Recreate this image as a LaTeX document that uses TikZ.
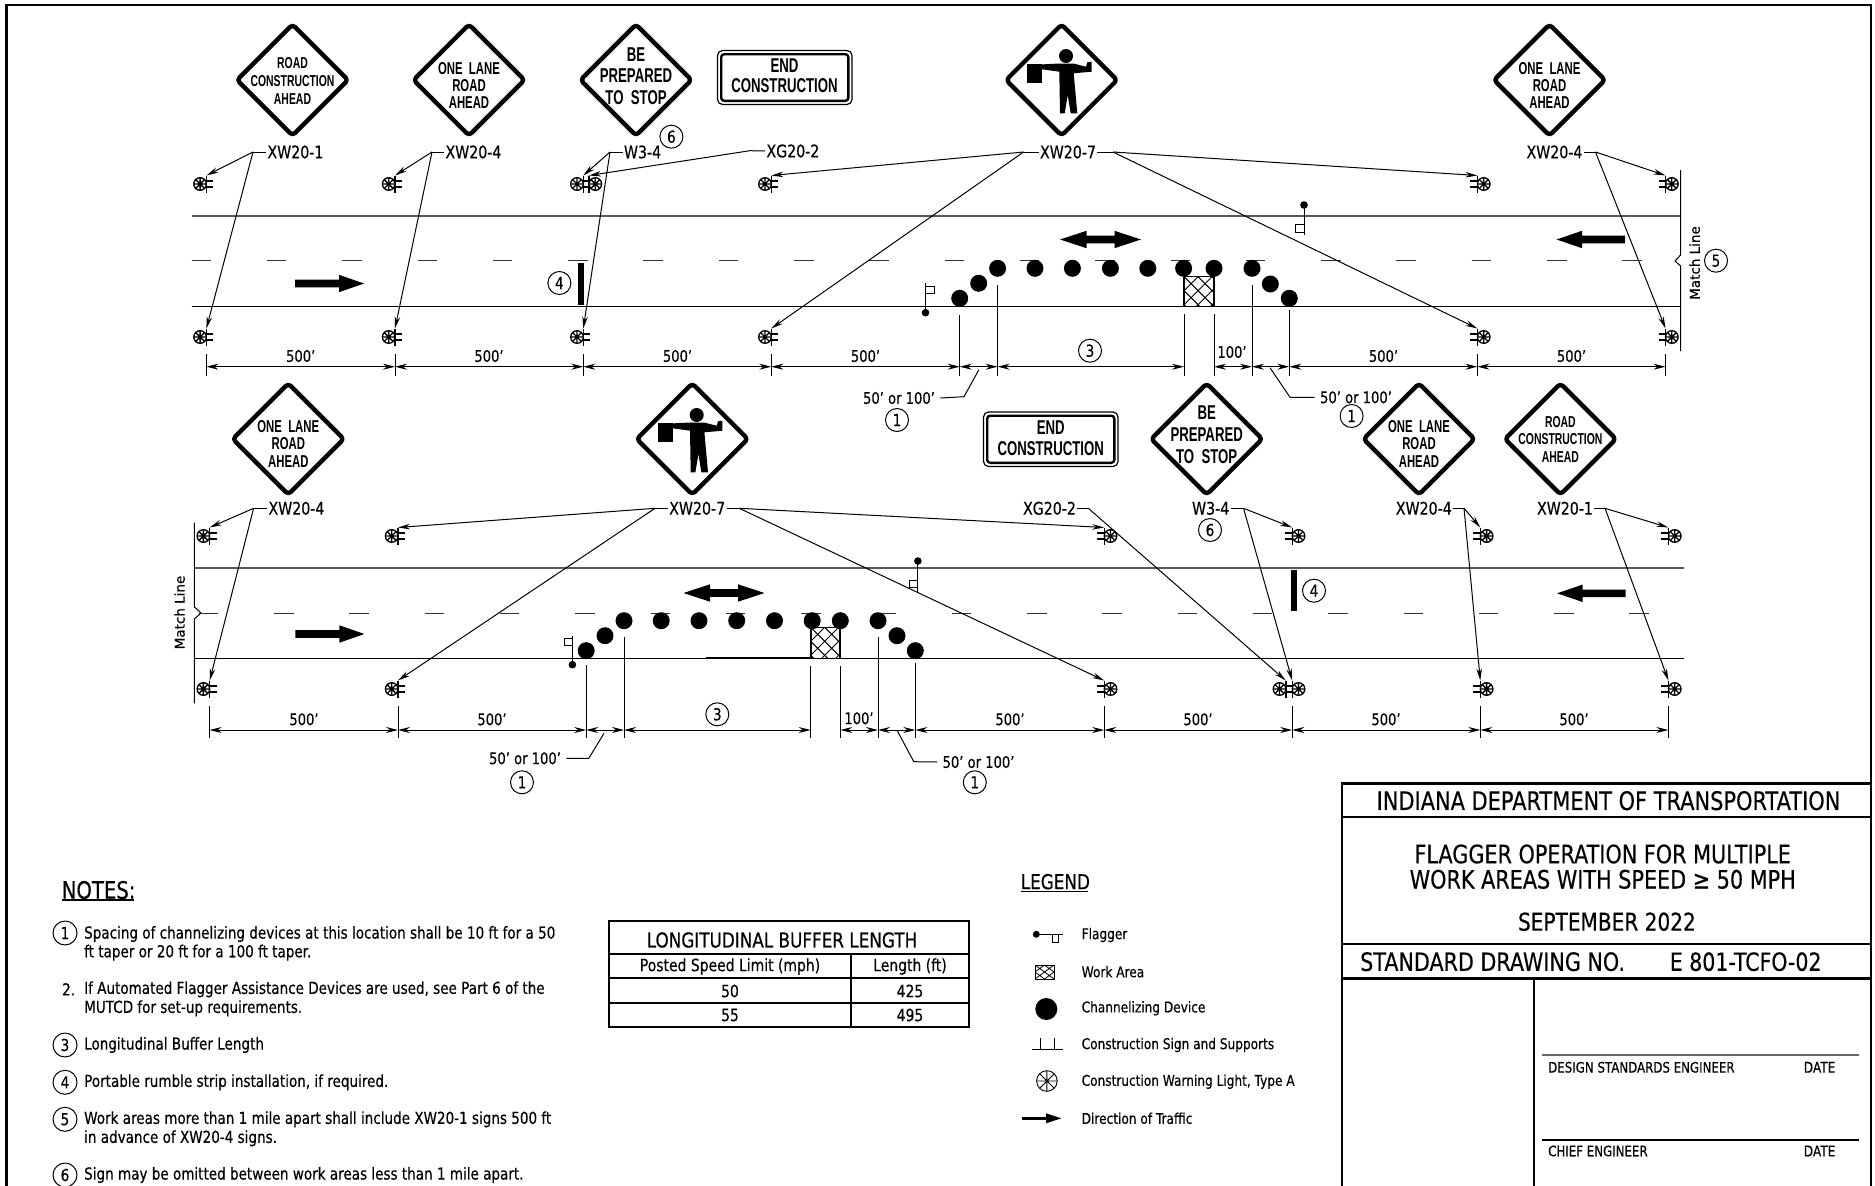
\documentclass[tikz,border=0pt]{standalone}
\usepackage{fontspec}
\setmainfont[FakeStretch=.82,FakeBold=.35]{DejaVu Sans}
\newfontfamily\signf[FakeStretch=.66]{Liberation Sans Bold}
\newfontfamily\matchf[FakeBold=.3]{DejaVu Sans}
\usetikzlibrary{arrows.meta}
\newcommand{\fs}[1]{\fontsize{#1}{#1}\selectfont}
\tikzset{
  frameline/.style={line width=2.6pt,line join=miter},
  ln/.style={line width=1pt},
  ar/.style={line width=1pt,-{Stealth[length=12pt,width=5.5pt]}},
  dimar/.style={line width=1pt,{Stealth[length=12pt,width=6pt]}-{Stealth[length=12pt,width=6pt]}},
  ext/.style={line width=.9pt},
  lbl/.style={inner sep=0pt,outer sep=1.5pt,font=\fs{17.3}},
  dimtxt/.style={inner sep=0pt,font=\fs{16}},
  note/.style={inner sep=0pt,anchor=west,font=\fs{16.5}},
  legendtxt/.style={inner sep=0pt,anchor=west,font=\fs{14.8}},
  tbl/.style={inner sep=0pt,font=\fs{17}},
  ttl/.style={inner sep=0pt,font=\fs{25.5}},
  sgnS/.style={inner sep=0pt,font=\signf\fs{15.8}},
  sgnM/.style={inner sep=0pt,font=\signf\fs{17.2}},
  sgnL/.style={inner sep=0pt,font=\signf\fs{20}},
  cnumst/.style={circle,draw,line width=1pt,minimum size=23pt,inner sep=0pt,font=\fs{16.5}},
  signedge/.style={line width=4.4pt,rounded corners=3.5pt,line join=round},
  road/.style={line width=1.5pt,draw=black!65},
  roadb/.style={line width=1pt},
  cl/.style={line width=1pt,dash pattern=on 19.5pt off 55.8pt,draw=black!80},
  cone/.style={fill=black},
  strip/.style={fill=black,draw=none},
  tline/.style={line width=2pt},
}
% wheel light
\newcommand{\wheelw}[4]{%
  \draw[line width=#4,fill=white] (#1,#2) circle (#3);
  \draw[line width=#4] (#1-#3,#2)--(#1+#3,#2) (#1,#2-#3)--(#1,#2+#3)
     (#1-.7*#3,#2-.7*#3)--(#1+.7*#3,#2+.7*#3) (#1-.7*#3,#2+.7*#3)--(#1+.7*#3,#2-.7*#3);}
% sign with supports: E = light to the left, W = light to the right
\newcommand{\signE}[3]{%
  \coordinate (#1) at (#2,#3-8.5);
  \wheelw{#2-6.3}{#3}{6.3}{1.35pt}
  \draw[line width=1.4pt] (#2,#3-8.5)--(#2,#3+8.5) (#2,#3-3)--(#2+7,#3-3) (#2,#3+3)--(#2+7,#3+3);}
\newcommand{\signW}[3]{%
  \coordinate (#1) at (#2,#3-8.5);
  \wheelw{#2+6.3}{#3}{6.3}{1.35pt}
  \draw[line width=1.4pt] (#2,#3-8.5)--(#2,#3+8.5) (#2,#3-3)--(#2-7,#3-3) (#2,#3+3)--(#2-7,#3+3);}
\newcommand{\dia}[3]{\coordinate (#1) at (#2,#3);
  \draw[signedge] (#2,#3-55.5)--(#2+55.5,#3)--(#2,#3+55.5)--(#2-55.5,#3)--cycle;}
\newcommand{\rectsign}[5]{\coordinate (#1) at (#2,#3);
  \draw[line width=1.2pt,rounded corners=5pt] (#2,#3) rectangle (#4,#5);
  \draw[line width=2.4pt,rounded corners=3pt] (#2+3.7,#3+3.7) rectangle (#4-3.7,#5-3.7);}
% flagger figure, offset from the top band sign at (1061.6,80)
\newcommand{\flaggerfig}[3]{\begin{scope}[shift={(#2-1061.6,#3-80)}]
  \coordinate (#1) at (1061.6,80);
  \fill (1066,56) circle (7);
  \fill (1027.3,64.3) rectangle (1042.3,82.7);
  \fill (1042,64.4)--(1059.3,63.5)--(1073.3,63.5)--(1086,66.7)--(1087.3,62.3)--(1091.7,61.7)--(1091.7,71.7)--(1073.7,73.3)--(1077.3,113.3)--(1070.7,113.3)--(1067.7,95)--(1064.7,113.3)--(1060,113.3)--(1059.3,71.7)--(1042,69.3)--cycle;
\end{scope}}
\newcommand{\arrR}[2]{\fill (#1,#2-3.8)--(#1+44,#2-3.8)--(#1+44,#2-8.7)--(#1+69,#2)--(#1+44,#2+8.7)--(#1+44,#2+3.8)--(#1,#2+3.8)--cycle;}
\newcommand{\arrL}[2]{\fill (#1,#2-3.8)--(#1-43,#2-3.8)--(#1-43,#2-8.7)--(#1-68.5,#2)--(#1-43,#2+8.7)--(#1-43,#2+3.8)--(#1,#2+3.8)--cycle;}
\newcommand{\dbl}[2]{\fill (#1-40.5,#2)--(#1-14,#2-8.7)--(#1-14,#2-3.8)--(#1+14,#2-3.8)--(#1+14,#2-8.7)--(#1+40.5,#2)--(#1+14,#2+8.7)--(#1+14,#2+3.8)--(#1-14,#2+3.8)--(#1-14,#2+8.7)--cycle;}
\newcommand{\hatch}[4]{\begin{scope}
  \clip (#1,#2) rectangle (#3,#4);
  \foreach \k in {-6,...,8}{
    \draw[line width=1pt] (#1+\k*14,#2)--++(40,40);
    \draw[line width=1pt] (#1+\k*14,#2)--++(-40,40);}
  \end{scope}
  \draw[line width=.9pt] (#1,#2) rectangle (#3,#4);}
\newcommand{\cones}[1]{\foreach \cx/\cy in {#1}{\fill[cone] (\cx,\cy) circle (8.5);}}
\newcommand{\leadto}[4]{\coordinate (elb) at (#2);
  \draw[ln] (#1)--(elb); \draw[ar] (elb)--(#3); \draw[ar] (elb)--(#4);}
\newcommand{\dimseg}[3]{\coordinate (d1) at (#1,#3);\coordinate (d2) at (#2,#3);\draw[dimar] (d1)--(d2);}
\begin{document}
\begin{tikzpicture}[x=1pt,y=-1pt]
\useasboundingbox (0,0) rectangle (1875,1186);
\fill[white] (0,0) rectangle (1875,1186);
\draw[frameline] (6.5,1186)--(6.5,5)--(1871,5)--(1871,1186);

%=========== TOP BAND
\draw[road] (191.6,216)--(1680.6,216);
\draw[roadb] (191.6,306)--(1680.6,306);
\draw[cl] (191.6,260.7)--(1642,260.7);
\dia{D1}{292.5}{80}
\node[sgnS] (t1a) at (292.5,63.5) {ROAD};
\node[sgnS] (t1b) at (292.5,81) {CONSTRUCTION};
\node[sgnS] (t1c) at (292.5,98.7) {AHEAD};
\dia{D2}{469}{80}
\node[sgnM] (t2a) at (469,68.3) {ONE\ \ LANE};
\node[sgnM] (t2b) at (469,85.7) {ROAD};
\node[sgnM] (t2c) at (469,102.7) {AHEAD};
\dia{D3}{636}{80}
\node[sgnL] (t3a) at (636,54.5) {BE};
\node[sgnL] (t3b) at (636,76) {PREPARED};
\node[sgnL] (t3c) at (636,97.7) {TO\ \ STOP};
\rectsign{R1}{717.5}{50.5}{852}{104.5}
\node[sgnL] (t4a) at (784.5,65.7) {END};
\node[sgnL] (t4b) at (784.5,86) {CONSTRUCTION};
\dia{D4}{1061.6}{80}
\flaggerfig{F1}{1061.6}{80}
\dia{D5}{1549.5}{80}
\node[sgnM] (t5a) at (1549.5,68.3) {ONE\ \ LANE};
\node[sgnM] (t5b) at (1549.5,85.7) {ROAD};
\node[sgnM] (t5c) at (1549.5,102.7) {AHEAD};

\signE{S1t}{206.4}{184} \signE{S1b}{206.4}{337}
\signE{S2t}{395}{184}   \signE{S2b}{395}{337}
\signE{S3t}{583.3}{184} \signE{S3b}{583.3}{337}
\signW{S3w}{589}{184}
\signE{S4t}{771.3}{184} \signE{S4b}{771.3}{337}
\signW{S5t}{1477.4}{184} \signW{S5b}{1477.4}{337}
\signW{S6t}{1665.5}{184} \signW{S6b}{1665.5}{337}

\node[lbl,anchor=west] (L1) at (266,152) {XW20-1};
\node[lbl,anchor=west] (L2) at (444,152) {XW20-4};
\node[lbl,anchor=west] (L3) at (622.5,152) {W3-4};
\node[lbl,anchor=west] (L4) at (765,151) {XG20-2};
\node[lbl] (L5) at (1068,152) {XW20-7};
\node[lbl] (L6) at (1554.5,152) {XW20-4};
\node[cnumst] (c6a) at (671.4,136.7) {6};
\leadto{L1.west}{253,152}{S1t}{S1b}
\leadto{L2.west}{432,152}{S2t}{S2b}
\leadto{L3.west}{610,152}{S3t}{S3b}
\coordinate (e4) at (750,150.7);
\draw[ln] (L4.west)--(e4); \draw[ar] (e4)--(S3w);
\leadto{L5.west}{1023.6,152}{S4t}{S4b}
\leadto{L5.east}{1113,152}{S5t}{S5b}
\leadto{L6.east}{1595.5,152}{S6t}{S6b}

\arrR{295}{283.5}
\arrL{1625}{239.5}
\dbl{1100.5}{239.5}
\fill[strip] (577.6,263) rectangle (584.3,305);
\node[cnumst] (c4a) at (559.4,283) {4};

% flaggers
\fill (1304,205) circle (3.8);
\draw[line width=1pt] (1304,205)--(1304,235);
\draw[line width=1pt] (1295.5,224.5) rectangle (1304,232);
\fill (925.5,312.7) circle (3.8);
\draw[line width=1pt] (925.5,312.7)--(925.5,283.3);
\draw[line width=1pt] (925.5,286.7) rectangle (934,293.3);

\hatch{1184}{276.7}{1214}{306}
\draw[line width=1.8pt] (1184,276.7)--(1184,306) (1214,276.7)--(1214,306);
\cones{997.6/268.3,1035/268.3,1072.4/268.3,1110.4/268.3,1147.8/268.3,1183.6/268.3,1214/268.3,1252/268.3,959.7/298.3,978.7/283.3,1270.3/284,1289.3/298.3}

% extension lines
\foreach \x in {206.4,395,583.3,771.3,1477.4}{\draw[ext] (\x,354)--(\x,375.7);}
\draw[ext] (1665.5,354)--(1665.5,375.7);
\draw[ext] (959.7,315)--(959.7,375.7) (997.6,285)--(997.6,375.7)
 (1184,314.3)--(1184,375.7) (1214,314.3)--(1214,375.7) (1252,285)--(1252,375.7) (1289.3,310)--(1289.3,375.7);
\dimseg{206.4}{395}{366.7}\dimseg{395}{583.3}{366.7}\dimseg{583.3}{771.3}{366.7}
\dimseg{771.3}{959.7}{366.7}\dimseg{959.7}{997.6}{366.7}\dimseg{997.6}{1184}{366.7}
\dimseg{1214}{1252}{366.7}\dimseg{1252}{1289.3}{366.7}\dimseg{1289.3}{1477.4}{366.7}\dimseg{1477.4}{1665.5}{366.7}
\node[dimtxt] (m1) at (300.7,356) {500'};
\node[dimtxt] (m2) at (489,356) {500'};
\node[dimtxt] (m3) at (677.5,356) {500'};
\node[dimtxt] (m4) at (865.5,356) {500'};
\node[cnumst] (c3a) at (1090,350.7) {3};
\node[dimtxt] (m5) at (1232,352) {100'};
\node[dimtxt] (m6) at (1383.5,356) {500'};
\node[dimtxt] (m7) at (1571.5,356) {500'};

\node[dimtxt,outer sep=1.5pt] (q1) at (899,398) {50' or 100'};
\node[cnumst] (c1a) at (897,420) {1};
\coordinate (q1a) at (964,396.7); \coordinate (q1b) at (978.7,370);
\draw[ln] (q1.east)++(4,0)--(q1a)--(q1b);
\node[dimtxt,outer sep=1.5pt] (q2) at (1356,397.3) {50' or 100'};
\node[cnumst] (c1b) at (1351.6,416) {1};
\coordinate (q2a) at (1290,397.3); \coordinate (q2b) at (1270,367.7);
\draw[ln] (q2.west)++(-4,0)--(q2a)--(q2b);

% match line right
\draw[line width=1pt] (1680.6,170)--(1680.6,255)--(1675,261)--(1680.6,266)--(1680.6,351);
\node[rotate=90,inner sep=0pt,font=\matchf\fs{13.5}] (ML1) at (1694.7,263) {Match Line};
\node[cnumst] (c5a) at (1716,260.7) {5};

%=========== BOTTOM BAND
\draw[road] (194.4,568)--(1683.8,568);
\draw[roadb] (194.4,658.3)--(1683.8,658.3);
\draw[line width=1.8pt] (706,657.7)--(810.7,657.7);
\draw[cl] (198.7,613)--(1649,613);
\dia{D6}{288.3}{439}
\node[sgnM] (u1a) at (288.3,427) {ONE\ \ LANE};
\node[sgnM] (u1b) at (288.3,444) {ROAD};
\node[sgnM] (u1c) at (288.3,461.5) {AHEAD};
\dia{D7}{692.3}{439}
\flaggerfig{F2}{692.3}{439}
\rectsign{R2}{983.5}{412}{1118}{466.5}
\node[sgnL] (u2a) at (1050.7,428) {END};
\node[sgnL] (u2b) at (1050.7,449) {CONSTRUCTION};
\dia{D8}{1206.7}{439}
\node[sgnL] (u3a) at (1206.7,413) {BE};
\node[sgnL] (u3b) at (1206.7,434.5) {PREPARED};
\node[sgnL] (u3c) at (1206.7,456.5) {TO\ \ STOP};
\dia{D9}{1419}{439}
\node[sgnM] (u4a) at (1419,427) {ONE\ \ LANE};
\node[sgnM] (u4b) at (1419,444) {ROAD};
\node[sgnM] (u4c) at (1419,461.5) {AHEAD};
\dia{D10}{1560.4}{439}
\node[sgnS] (u5a) at (1560.4,422) {ROAD};
\node[sgnS] (u5b) at (1560.4,439.5) {CONSTRUCTION};
\node[sgnS] (u5c) at (1560.4,457.5) {AHEAD};

\signE{B1t}{209.7}{536} \signE{B1b}{209.7}{689}
\signE{B2t}{398}{536}   \signE{B2b}{398}{689}
\signW{B3t}{1104.2}{536} \signW{B3b}{1104.2}{689}
\signW{B4t}{1292.2}{536} \signW{B4b}{1292.2}{689}
\signE{B4e}{1285.8}{689}
\signW{B5t}{1480.3}{536} \signW{B5b}{1480.3}{689}
\signW{B6t}{1668.4}{536} \signW{B6b}{1668.4}{689}

\node[lbl,anchor=west] (K1) at (267,508.3) {XW20-4};
\node[lbl] (K2) at (697.2,508.3) {XW20-7};
\node[lbl] (K3) at (1049.5,508.3) {XG20-2};
\node[lbl] (K4) at (1210.7,508.3) {W3-4};
\node[lbl] (K5) at (1423.8,508.3) {XW20-4};
\node[lbl] (K6) at (1565,508.3) {XW20-1};
\node[cnumst] (c6b) at (1210,530) {6};
\leadto{K1.west}{253.6,508.3}{B1t}{B1b}
\leadto{K2.west}{655,508.3}{B2t}{B2b}
\leadto{K2.east}{739.3,508.3}{B3t}{B3b}
\coordinate (e9) at (1088.3,508.3);
\draw[ln] (K3.east)--(e9); \draw[ar] (e9)--(B4e);
\leadto{K4.east}{1243.5,508.3}{B4t}{B4b}
\leadto{K5.east}{1464,508.3}{B5t}{B5b}
\leadto{K6.east}{1605,508.3}{B6t}{B6b}

\arrR{295.4}{634}
\arrL{1625.6}{593.3}
\dbl{724}{593}
\fill[strip] (1291,570) rectangle (1297,611);
\node[cnumst] (c4b) at (1314,590.7) {4};

\fill (917.9,561) circle (3.8);
\draw[line width=1pt] (917.9,561)--(917.9,591.7);
\draw[line width=1pt] (909.5,580.7) rectangle (917.9,587.3);
\fill (572.4,664.7) circle (3.8);
\draw[line width=1pt] (572.4,664.7)--(572.4,635.7);
\draw[line width=1pt] (564,638.5) rectangle (572.4,645.7);

\hatch{810.7}{627.3}{840.3}{658.3}
\draw[line width=1.8pt] (810.7,627.3)--(810.7,658.3) (840.3,627.3)--(840.3,658.3);
\cones{624/620.7,661.2/620.7,699/620.7,736.7/620.7,774.5/620.7,812.2/620.7,840.3/620.7,878/620.7,586.2/650.7,605/635.7,897/635.7,915.3/650.7}

\foreach \x in {209.7,398,1104.2,1292.2,1480.3,1668.4}{\draw[ext] (\x,705.7)--(\x,738.3);}
\draw[ext] (586.2,665)--(586.2,738.3) (624,636.7)--(624,738.3)
 (810.7,666)--(810.7,738.3) (840.3,666)--(840.3,738.3) (878,636.7)--(878,738.3) (915.3,663.3)--(915.3,738.3);
\dimseg{209.7}{398}{730}\dimseg{398}{586.2}{730}\dimseg{586.2}{624}{730}\dimseg{624}{810.7}{730}
\dimseg{840.3}{878}{730}\dimseg{878}{915.3}{730}\dimseg{915.3}{1104.2}{730}\dimseg{1104.2}{1292.2}{730}
\dimseg{1292.2}{1480.3}{730}\dimseg{1480.3}{1668.4}{730}
\node[dimtxt] (n1) at (304,719.3) {500'};
\node[dimtxt] (n2) at (492,719.3) {500'};
\node[cnumst] (c3b) at (717.3,714.3) {3};
\node[dimtxt] (n3) at (859,718.3) {100'};
\node[dimtxt] (n4) at (1010,719.3) {500'};
\node[dimtxt] (n5) at (1198,719.3) {500'};
\node[dimtxt] (n6) at (1386,719.3) {500'};
\node[dimtxt] (n7) at (1574,719.3) {500'};

\node[dimtxt,outer sep=1.5pt] (q3) at (525,758.3) {50' or 100'};
\node[cnumst] (c1c) at (522,782.3) {1};
\coordinate (q3a) at (588.8,758.3); \coordinate (q3b) at (604,733.3);
\draw[ln] (q3.east)++(4,0)--(q3a)--(q3b);
\node[dimtxt,outer sep=1.5pt] (q4) at (978.5,762) {50' or 100'};
\node[cnumst] (c1d) at (974.8,782.3) {1};
\coordinate (q4a) at (913.8,761.7); \coordinate (q4b) at (897.4,731);
\draw[ln] (q4.west)++(-4,0)--(q4a)--(q4b);

\draw[line width=1pt] (194.4,522.7)--(194.4,607)--(201,613)--(194.4,619)--(194.4,703.3);
\node[rotate=90,inner sep=0pt,font=\matchf\fs{13.5}] (ML2) at (179.6,612.5) {Match Line};

%=========== NOTES
\node[inner sep=0pt,anchor=west,font=\fs{24}] (NT) at (61.5,890) {NOTES:};
\draw[line width=1.2pt] (61.5,900)--(134,900);
\node[cnumst,minimum size=24pt] (g1) at (65,933) {1};
\node[note] (g1a) at (84,934) {Spacing of channelizing devices at this location shall be 10 ft for a 50};
\node[note] (g1b) at (84,952.7) {ft taper or 20 ft for a 100 ft taper.};
\node[note] (g2) at (62,989.3) {2.};
\node[note] (g2a) at (84,989.3) {If Automated Flagger Assistance Devices are used, see Part 6 of the};
\node[note] (g2b) at (84,1008.3) {MUTCD for set-up requirements.};
\node[cnumst,minimum size=24pt] (g3) at (65,1045) {3};
\node[note] (g3a) at (84,1045) {Longitudinal Buffer Length};
\node[cnumst,minimum size=24pt] (g4) at (65,1082.3) {4};
\node[note] (g4a) at (84,1082.3) {Portable rumble strip installation, if required.};
\node[cnumst,minimum size=24pt] (g5) at (65,1119.3) {5};
\node[note] (g5a) at (84,1119.3) {Work areas more than 1 mile apart shall include XW20-1 signs 500 ft};
\node[note] (g5b) at (84,1138.3) {in advance of XW20-4 signs.};
\node[cnumst,minimum size=24pt] (g6) at (65,1175) {6};
\node[note] (g6a) at (84,1175) {Sign may be omitted between work areas less than 1 mile apart.};

%=========== TABLE
\draw[tline] (609,921) rectangle (969.4,1026.7);
\draw[tline] (609,954.3)--(969.4,954.3) (609,978.3)--(969.4,978.3) (609,1002.7)--(969.4,1002.7);
\draw[tline] (850.8,954.3)--(850.8,1026.7);
\node[tbl,font=\fs{20.5}] (T0) at (782,940) {LONGITUDINAL BUFFER LENGTH};
\node[tbl] (T1) at (730,966.5) {Posted Speed Limit (mph)};
\node[tbl] (T2) at (910,966.5) {Length (ft)};
\node[tbl] (T3) at (730,991) {50};
\node[tbl] (T4) at (910,991) {425};
\node[tbl] (T5) at (730,1015) {55};
\node[tbl] (T6) at (910,1015) {495};

%=========== LEGEND
\node[inner sep=0pt,anchor=west,font=\fs{20.5}] (LG) at (1020.6,881.7) {LEGEND};
\draw[line width=1.2pt] (1020.6,891.7)--(1088,891.7);
\fill (1036.3,934.3) circle (3.5);
\draw[line width=1pt] (1036.3,934.3)--(1062.5,934.3);
\draw[line width=1pt] (1052.3,934.3) rectangle (1058.6,942.7);
\node[legendtxt] (h1) at (1081.5,935) {Flagger};
\begin{scope}
\clip (1035,965) rectangle (1054,979);
\draw[line width=.8pt] (1035,965)--(1054,979) (1035,979)--(1054,965) (1035,972)--(1044.5,965)--(1054,972)--(1044.5,979)--cycle;
\end{scope}
\draw[line width=1pt] (1035,965) rectangle (1054,979);
\node[legendtxt] (h2) at (1081.5,971.7) {Work Area};
\fill (1046.3,1009) circle (11);
\node[legendtxt] (h3) at (1081.5,1008.3) {Channelizing Device};
\draw[line width=.9pt] (1032.4,1049)--(1062.5,1049) (1040,1038)--(1040,1049) (1054,1038)--(1054,1049);
\node[legendtxt] (h4) at (1081.5,1045) {Construction Sign and Supports};
\wheelw{1046.9}{1081}{10.3}{.9pt}
\node[legendtxt] (h5) at (1081.5,1081.7) {Construction Warning Light, Type A};
\fill (1022.3,1116.7) rectangle (1046,1120);
\fill (1046,1113.3)--(1061.4,1118.3)--(1046,1123.3)--cycle;
\node[legendtxt] (h6) at (1081.5,1118.3) {Direction of Traffic};

%=========== TITLE BLOCK
\draw[line width=2.4pt] (1342,1186)--(1342,783.3)--(1871,783.3);
\draw[line width=2.4pt] (1342,816.7)--(1871,816.7) (1342,944)--(1871,944) (1342,978.3)--(1871,978.3);
\draw[line width=2.4pt] (1534,978.3)--(1534,1186);
\node[ttl] (B1) at (1608.5,800.7) {INDIANA DEPARTMENT OF TRANSPORTATION};
\node[ttl,font=\fs{25.3}] (B2) at (1602.7,854) {FLAGGER OPERATION FOR MULTIPLE};
\node[ttl,font=\fs{25.3}] (B3) at (1602.7,879.3) {WORK AREAS WITH SPEED ≥ 50 MPH};
\node[ttl,font=\fs{24.5}] (B4) at (1606.9,921.7) {SEPTEMBER 2022};
\node[ttl,anchor=west,font=\fs{25.2}] (B5) at (1360,961.7) {STANDARD DRAWING NO.};
\node[ttl,anchor=west,font=\fs{25}] (B6) at (1669.6,961.7) {E 801-TCFO-02};
\draw[line width=1.6pt,draw=black!60] (1542.4,1055)--(1859.4,1055);
\draw[line width=1.2pt] (1542.4,1140)--(1859.4,1140);
\node[inner sep=0pt,anchor=west,font=\fs{14.4}] (B7) at (1548,1067.3) {DESIGN STANDARDS ENGINEER};
\node[inner sep=0pt,anchor=west,font=\fs{14.8}] (B8) at (1803.6,1067.3) {DATE};
\node[inner sep=0pt,anchor=west,font=\fs{14.4}] (B9) at (1548,1151) {CHIEF ENGINEER};
\node[inner sep=0pt,anchor=west,font=\fs{14.8}] (B10) at (1803.6,1151) {DATE};
\end{tikzpicture}
\end{document}
